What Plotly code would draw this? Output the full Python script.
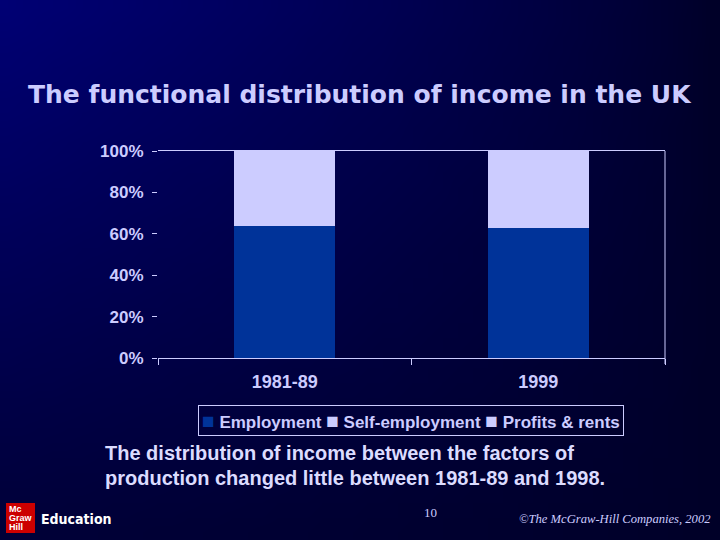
import base64
import struct
import zlib

import plotly.graph_objects as go

# ---------------- data ----------------
categories = ["1981-89", "1999"]
series_names = ["Employment", "Self-employment", "Profits & rents"]
employment = [64, 63]
self_employment = [9, 10]
profits_rents = [27, 27]
y_ticks = [0, 20, 40, 60, 80, 100]
y_tick_labels = ["0%", "20%", "40%", "60%", "80%", "100%"]

title_text = "The functional distribution of income in the UK"
caption_lines = [
    "The distribution of income between the factors of",
    "production changed little between 1981-89 and 1998.",
]

# ---------------- layout geometry (pixels) ----------------
W, H = 720, 540
L, R, T, B = 158, 55, 151, 182
PW, PH = W - L - R, H - T - B


def px(xp):
    return (xp - L) / PW


def py(yp):
    return (H - B - yp) / PH


LAV = "#ccccff"
BLUE = "#003399"
series_colors = [BLUE, LAV, LAV]


# ---------------- background gradient image ----------------
def make_png(w, h):
    rows = []
    for j in range(h):
        fy = j / (h - 1)
        row = bytearray([0])
        for i in range(w):
            fx = i / (w - 1)
            b = 40 + 76 * ((1 - fx) ** 0.75) * (1 - 0.78 * fy)
            row += bytes([0, 0, int(min(255, b))])
        rows.append(bytes(row))
    raw = b"".join(rows)

    def chunk(tag, data):
        c = struct.pack(">I", len(data)) + tag + data
        return c + struct.pack(">I", zlib.crc32(tag + data) & 0xFFFFFFFF)

    png = b"\x89PNG\r\n\x1a\n"
    png += chunk(b"IHDR", struct.pack(">IIBBBBB", w, h, 8, 2, 0, 0, 0))
    png += chunk(b"IDAT", zlib.compress(raw, 9))
    png += chunk(b"IEND", b"")
    return "data:image/png;base64," + base64.b64encode(png).decode()


bg_src = make_png(48, 36)

fig = go.Figure()
for name, vals, col in zip(series_names,
                           [employment, self_employment, profits_rents],
                           series_colors):
    fig.add_trace(go.Bar(name=name, x=categories, y=vals,
                         marker=dict(color=col, line=dict(width=0))))

legend_text = " ".join(
    f'<span style="color:{c};font-size:21px">■</span> {n}'
    for n, c in zip(series_names, series_colors)
)

annotations = [
    dict(text=title_text, x=px(360), y=py(95), xref="paper", yref="paper",
         xanchor="center", yanchor="middle", showarrow=False,
         font=dict(family="DejaVu Sans", size=25, color=LAV, weight="bold")),
    dict(text=legend_text, x=px(411), y=py(420), xref="paper", yref="paper",
         xanchor="center", yanchor="middle", showarrow=False,
         bordercolor=LAV, borderwidth=1, borderpad=3,
         font=dict(family="Liberation Sans, Arial", size=17, color=LAV,
                   weight="bold")),
    dict(text=caption_lines[0], x=px(103), y=py(453), xref="paper", yref="paper",
         xanchor="left", yanchor="middle", showarrow=False,
         font=dict(family="Liberation Sans, Arial", size=20, color="#dcdcff",
                   weight="bold")),
    dict(text=caption_lines[1], x=px(103), y=py(478), xref="paper", yref="paper",
         xanchor="left", yanchor="middle", showarrow=False,
         font=dict(family="Liberation Sans, Arial", size=20, color="#dcdcff",
                   weight="bold")),
    dict(text="10", x=px(430), y=py(512), xref="paper", yref="paper",
         xanchor="center", yanchor="middle", showarrow=False,
         font=dict(family="Liberation Serif, DejaVu Serif", size=13, color=LAV)),
    dict(text="<i>©The McGraw-Hill Companies, 2002</i>", x=px(713), y=py(519),
         xref="paper", yref="paper", xanchor="right", yanchor="middle",
         showarrow=False,
         font=dict(family="Liberation Serif, DejaVu Serif", size=12.6,
                   color=LAV)),
    dict(text="Education", x=px(39), y=py(519), xref="paper", yref="paper",
         xanchor="left", yanchor="middle", showarrow=False,
         font=dict(family="DejaVu Sans Condensed, Liberation Sans", size=14,
                   color="white", weight="bold")),
]
for word, yy in [("Mc", 509), ("Graw", 518), ("Hill", 527)]:
    annotations.append(dict(text=word, x=px(7), y=py(yy), xref="paper",
                            yref="paper", xanchor="left", yanchor="middle",
                            showarrow=False,
                            font=dict(family="Liberation Sans, Arial", size=9,
                                      color="white", weight="bold")))

shapes = [
    dict(type="line", xref="paper", yref="paper", x0=1, x1=1, y0=py(364), y1=1,
         line=dict(color=LAV, width=1)),
    dict(type="rect", xref="paper", yref="paper", x0=px(6), x1=px(35),
         y0=py(533), y1=py(503), fillcolor="#cc0000", line=dict(width=0),
         layer="below"),
]

fig.update_layout(
    width=W, height=H,
    margin=dict(l=L, r=R, t=T, b=B),
    barmode="stack",
    bargap=0.6,
    paper_bgcolor="#000044",
    plot_bgcolor="rgba(0,0,0,0)",
    showlegend=False,
    xaxis=dict(showline=True, linecolor=LAV, linewidth=1, mirror=True,
               ticks="outside", tickson="boundaries", ticklen=6,
               tickcolor=LAV, showgrid=False, ticklabelstandoff=7,
               tickfont=dict(family="Liberation Sans, Arial", size=18,
                             color=LAV, weight="bold")),
    yaxis=dict(range=[0, 100], tickmode="array", tickvals=y_ticks,
               ticktext=y_tick_labels,
               showline=False, showgrid=False, zeroline=False,
               ticks="outside", ticklen=5, tickcolor=LAV, ticklabelstandoff=5,
               tickfont=dict(family="Liberation Sans, Arial", size=17,
                             color=LAV, weight="bold")),
    annotations=annotations,
    shapes=shapes,
    images=[dict(source=bg_src, xref="paper", yref="paper",
                 x=px(0), y=py(0), sizex=W / PW, sizey=H / PH,
                 xanchor="left", yanchor="top", sizing="stretch",
                 layer="below")],
)

fig.write_html(
    "out.html",
    config={"displayModeBar": False},
    post_script="document.body.style.margin='0';document.body.style.overflow='hidden';",
)
